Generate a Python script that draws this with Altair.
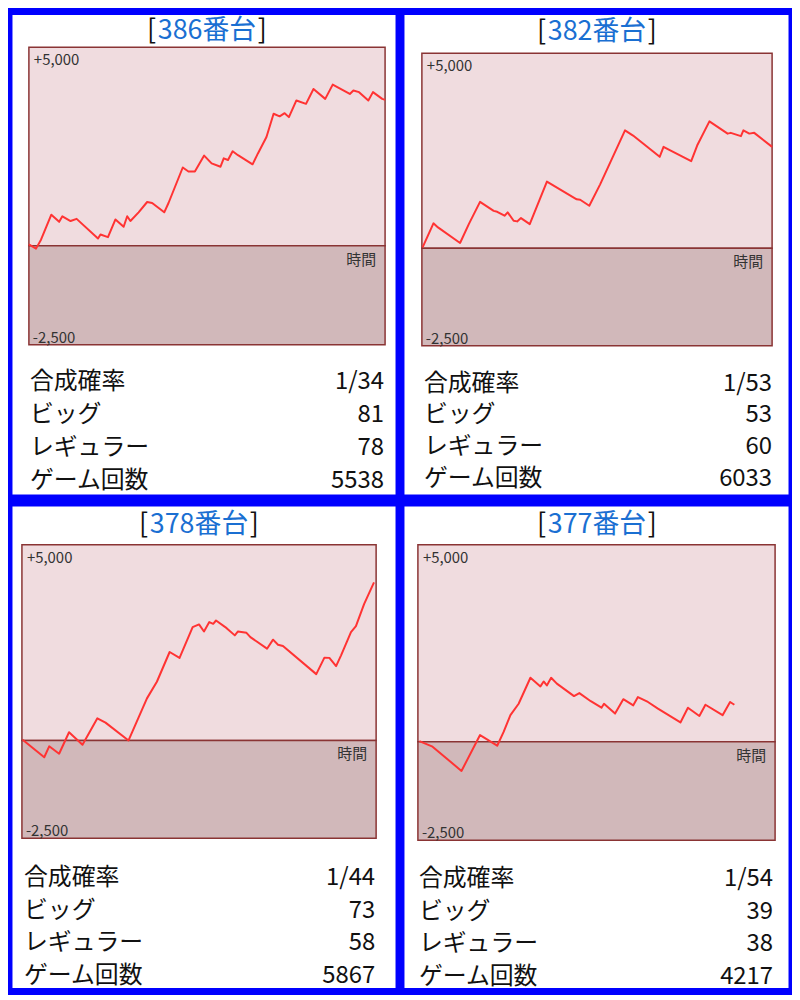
import altair as alt
import pandas as pd

# ---------------- data ----------------
machines = ["386番台", "382番台", "378番台", "377番台"]
row_labels = ["合成確率", "ビッグ", "レギュラー", "ゲーム回数"]
prob = ["1/34", "1/53", "1/44", "1/54"]
big = [81, 53, 73, 39]
reg = [78, 60, 58, 38]
games = [5538, 6033, 5867, 4217]

Y_MAX = 5000
Y_MIN = -2500
Y_MAX_LABEL = "+5,000"
Y_MIN_LABEL = "-2,500"
X_TITLE = "時間"

# time position (% of the time axis) and difference (coins)
t1 = [0, 2.0, 3.4, 6.3, 8.5, 9.4, 11.7, 13.4, 19.4, 20.1, 22.2, 24.3, 26.6, 27.6, 28.5, 30.8, 33.2, 34.6, 38.0, 39.2,
      43.2, 44.8, 46.6, 49.2, 51.3, 53.8, 54.7, 55.9, 57.2, 58.7, 62.8, 64.3, 66.7, 68.7, 70.4, 71.8, 73.0, 75.1, 77.8,
      79.9, 83.2, 85.3, 90.1, 91.1, 92.7, 95.3, 96.6, 99.2, 100]
v1 = [30, -75, 150, 780, 600, 740, 620, 675, 180, 280, 215, 660, 475, 740, 620, 840, 1100, 1075, 840, 1075,
      1970, 1870, 1870, 2270, 2075, 1990, 2200, 2160, 2380, 2280, 2050, 2325, 2740, 3325, 3260, 3340, 3240, 3660, 3575,
      3950, 3700, 4060, 3825, 3910, 3870, 3660, 3870, 3700, 3675]

t2 = [0.2, 3.3, 4.6, 10.9, 13.4, 16.6, 20.5, 21.5, 23.6, 24.5, 26.2, 27.2, 28.3, 30.8, 35.7, 44.2, 45.2, 47.8, 50.9,
      58.0, 60.3, 67.9, 69.0, 70.5, 76.9, 78.6, 82.1, 87.3, 88.2, 91.1, 91.8, 93.5, 94.9, 100]
v2 = [25, 640, 535, 135, 620, 1190, 960, 935, 835, 920, 705, 690, 775, 620, 1710, 1255, 1245, 1090, 1640,
      3025, 2890, 2345, 2600, 2530, 2235, 2635, 3255, 2940, 2960, 2875, 3025, 2940, 2960, 2600]

t3 = [0.2, 6.3, 7.7, 10.5, 13.3, 17.1, 21.3, 23.6, 30.1, 35.3, 38.1, 41.7, 44.5, 48.2, 50.0, 51.4, 52.9, 54.0, 54.8,
      57.8, 60.1, 61.0, 63.4, 64.5, 69.2, 70.9, 72.3, 73.7, 83.1, 85.4, 86.8, 88.7, 90.1, 92.9, 94.3, 96.6, 99.4]
v3 = [20, -430, -150, -340, 210, -110, 565, 455, 0, 1075, 1500, 2260, 2110, 2895, 2965, 2785, 3025, 2980, 3065,
      2870, 2685, 2785, 2750, 2640, 2345, 2575, 2445, 2415, 1695, 2115, 2110, 1900, 2175, 2770, 2920, 3485, 4040]

t4 = [0.4, 4.1, 12.2, 17.4, 22.2, 24.0, 25.9, 28.2, 31.5, 34.3, 35.2, 36.1, 37.3, 38.9, 43.7, 45.2, 48.4, 51.4, 52.1,
      55.2, 57.5, 60.3, 61.6, 64.4, 67.2, 73.5, 75.6, 78.8, 80.5, 85.3, 87.4, 88.6]
v4 = [15, -125, -740, 170, -100, 250, 675, 965, 1625, 1405, 1530, 1430, 1625, 1475, 1160, 1235, 1030, 865, 965,
      715, 1080, 925, 1135, 1010, 840, 490, 865, 655, 940, 675, 1010, 940]

series_t = [t1, t2, t3, t4]
series_v = [v1, v2, v3, v4]

# ---------------- style / layout ----------------
FONT = "Noto Sans CJK JP"
BLUE_BG = "#0000ff"
TITLE_BLUE = "#1a6fd2"
PINK = "#f0dcdf"
MAUVE = "#d1b8ba"
BORDER = "#8a3434"
LINE = "#ff3333"

# panel sizes and positions inside each panel (pixels); whole chart 784 x 982
PANEL_W = [385, 386, 385, 386]
PANEL_H = [482, 482, 484, 484]
LAYOUT = [
    dict(px0=17, px1=375, py0=33, py1=332, tx=196, ty=17, sl=18, sr=374, r0=369, r1=469),
    dict(px0=18, px1=370, py0=39, py1=333, tx=194, ty=18, sl=20, sr=370, r0=371, r1=467),
    dict(px0=10, px1=366, py0=39, py1=334, tx=188, ty=19, sl=12, sr=365, r0=374, r1=472),
    dict(px0=14, px1=373, py0=39, py1=336, tx=194, ty=19, sl=15, sr=371, r0=375, r1=473),
]
TITLE_SIZE = 27
STAT_SIZE = 24
SMALL = 15


def text_width(s, size):
    return sum((0.57 if ord(c) < 128 else 1.0) for c in s) * size


def panel(i):
    L = LAYOUT[i]
    xs = alt.Scale(domain=[0, 100], range=[L["px0"], L["px1"]], nice=False, zero=False)
    ys = alt.Scale(domain=[Y_MIN, Y_MAX], range=[L["py1"], L["py0"]], nice=False, zero=False)
    rs = alt.Scale(domain=[0, len(row_labels) - 1], range=[L["r0"], L["r1"]], nice=False, zero=False)

    bands = pd.DataFrame({
        "x0": [0, 0], "x1": [100, 100],
        "y0": [0, Y_MIN], "y1": [Y_MAX, 0],
        "band": ["plus", "minus"],
    })
    band_layer = alt.Chart(bands).mark_rect(stroke=BORDER, strokeWidth=1.5).encode(
        x=alt.X("x0:Q", scale=xs, axis=None),
        x2="x1:Q",
        y=alt.Y("y0:Q", scale=ys, axis=None),
        y2="y1:Q",
        color=alt.Color("band:N", scale=alt.Scale(domain=["plus", "minus"], range=[PINK, MAUVE]), legend=None),
    )

    line_df = pd.DataFrame({"t": series_t[i], "v": series_v[i]})
    line_layer = alt.Chart(line_df).mark_line(color=LINE, strokeWidth=2, strokeJoin="round").encode(
        x=alt.X("t:Q", scale=xs, axis=None),
        y=alt.Y("v:Q", scale=ys, axis=None),
    )

    top_lab = alt.Chart(pd.DataFrame({"x": [0], "y": [Y_MAX], "s": [Y_MAX_LABEL]})).mark_text(
        align="left", baseline="middle", dx=5, dy=13, font=FONT, fontSize=SMALL, color="#333333"
    ).encode(x=alt.X("x:Q", scale=xs, axis=None), y=alt.Y("y:Q", scale=ys, axis=None), text="s:N")

    bot_lab = alt.Chart(pd.DataFrame({"x": [0], "y": [Y_MIN], "s": [Y_MIN_LABEL]})).mark_text(
        align="left", baseline="middle", dx=4, dy=-7, font=FONT, fontSize=SMALL, color="#333333"
    ).encode(x=alt.X("x:Q", scale=xs, axis=None), y=alt.Y("y:Q", scale=ys, axis=None), text="s:N")

    x_lab = alt.Chart(pd.DataFrame({"x": [100], "y": [0], "s": [X_TITLE]})).mark_text(
        align="right", baseline="middle", dx=-9, dy=14, font=FONT, fontSize=SMALL, color="#333333"
    ).encode(x=alt.X("x:Q", scale=xs, axis=None), y=alt.Y("y:Q", scale=ys, axis=None), text="s:N")

    name = machines[i]
    half = text_width(name, TITLE_SIZE) / 2
    tdf = pd.DataFrame({"name": [name], "lb": ["["], "rb": ["]"]})
    title_mid = alt.Chart(tdf).mark_text(
        align="center", baseline="middle", font=FONT, fontSize=TITLE_SIZE, color=TITLE_BLUE
    ).encode(x=alt.value(L["tx"]), y=alt.value(L["ty"]), text="name:N")
    title_l = alt.Chart(tdf).mark_text(
        align="right", baseline="middle", font=FONT, fontSize=TITLE_SIZE, color="#111111"
    ).encode(x=alt.value(L["tx"] - half - 1), y=alt.value(L["ty"]), text="lb:N")
    title_r = alt.Chart(tdf).mark_text(
        align="left", baseline="middle", font=FONT, fontSize=TITLE_SIZE, color="#111111"
    ).encode(x=alt.value(L["tx"] + half + 1), y=alt.value(L["ty"]), text="rb:N")

    stats = pd.DataFrame({
        "row": list(range(len(row_labels))),
        "label": row_labels,
        "value": [prob[i], str(big[i]), str(reg[i]), str(games[i])],
    })
    stat_l = alt.Chart(stats).mark_text(
        align="left", baseline="middle", font=FONT, fontSize=STAT_SIZE, color="#111111"
    ).encode(x=alt.value(L["sl"]), y=alt.Y("row:Q", scale=rs, axis=None), text="label:N")
    stat_r = alt.Chart(stats).mark_text(
        align="right", baseline="middle", font=FONT, fontSize=STAT_SIZE, color="#111111"
    ).encode(x=alt.value(L["sr"]), y=alt.Y("row:Q", scale=rs, axis=None), text="value:N")

    return alt.layer(
        band_layer, line_layer, top_lab, bot_lab, x_lab,
        title_l, title_mid, title_r, stat_l, stat_r
    ).resolve_scale(x="independent", y="independent", color="independent").properties(
        width=PANEL_W[i], height=PANEL_H[i]
    )


row1 = alt.hconcat(panel(0), panel(1), spacing=7)
row2 = alt.hconcat(panel(2), panel(3), spacing=7)
chart = alt.vconcat(row1, row2, spacing=10).properties(
    padding={"left": 3, "top": 3, "right": 3, "bottom": 3},
    background=BLUE_BG,
).configure_view(fill="white", stroke="transparent")

chart.save("out.html", embed_options={"renderer": "svg", "actions": False})
